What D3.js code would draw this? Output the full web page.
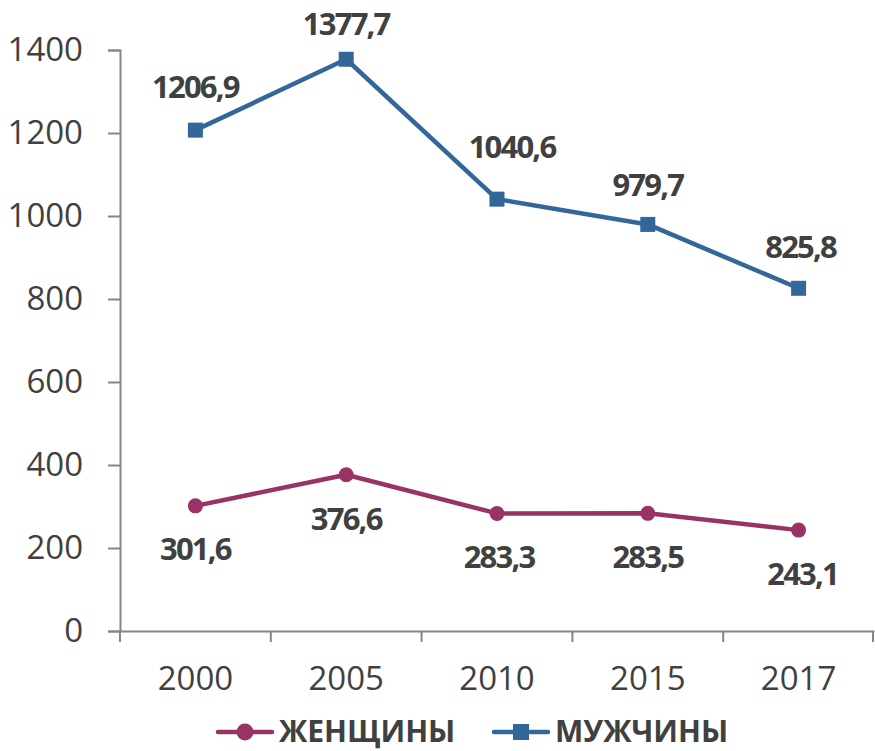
<!DOCTYPE html>
<html>
<head>
<meta charset="utf-8">
<script src="https://cdn.jsdelivr.net/npm/d3@7"></script>
<style>
  body { margin: 0; background: #fff; }
  svg text { font-family: "Open Sans", "Noto Sans", sans-serif; }
</style>
</head>
<body>
<div id="chart"></div>
<script>
// Data.
const years = ["2000", "2005", "2010", "2015", "2017"];
const women = [301.6, 376.6, 283.3, 283.5, 243.1];
const men = [1206.9, 1377.7, 1040.6, 979.7, 825.8];
const yTicks = [0, 200, 400, 600, 800, 1000, 1200, 1400];
const seriesNames = ["ЖЕНЩИНЫ", "МУЖЧИНЫ"];

// Small manual nudges for the value labels (dx, dy from the point).
const menLabelNudge = [[0, -32], [0, -24], [15, -41], [0, -28], [2, -30]];
const womenLabelNudge = [[0, 54], [0, 55], [2, 55], [0, 55], [4, 55]];

const width = 875;
const height = 751;
const margin = { top: 50, right: 1, bottom: 120, left: 120 };

const colorMen = "#336699";
const colorWomen = "#993366";
const textColor = "#404040";
const axisColor = "#868686";
const fontFamily = "'Open Sans', 'Noto Sans', sans-serif";

const svg = d3.select("#chart")
  .append("svg")
  .attr("width", width)
  .attr("height", height)
  .style("display", "block");

// Scales.
const x = d3.scaleBand()
  .domain(years)
  .range([margin.left, width - margin.right])
  .padding(0);

const y = d3.scaleLinear()
  .domain([0, 1400])
  .range([height - margin.bottom, margin.top]);

const cx = (d) => x(d) + x.bandwidth() / 2;

// Y axis.
const yAxis = svg.append("g")
  .attr("transform", `translate(${margin.left},0)`)
  .call(d3.axisLeft(y).tickValues(yTicks).tickSize(12).tickPadding(25).tickFormat(d3.format("d")))
  .attr("font-family", fontFamily)
  .attr("font-size", 33);
yAxis.select(".domain").attr("stroke", axisColor).attr("stroke-width", 2);
yAxis.selectAll(".tick line").attr("stroke", axisColor).attr("stroke-width", 2);
yAxis.selectAll(".tick text").attr("fill", textColor);

// X axis.
const xAxis = svg.append("g")
  .attr("transform", `translate(0,${y(0)})`)
  .call(d3.axisBottom(x).tickSize(0).tickPadding(36))
  .attr("font-family", fontFamily)
  .attr("font-size", 33);
xAxis.select(".domain").attr("stroke", axisColor).attr("stroke-width", 2);
xAxis.selectAll(".tick text").attr("fill", textColor);

// Category boundary ticks.
const bounds = years.map((d) => x(d)).concat([x.range()[1] - 1]);
xAxis.selectAll(".bound")
  .data(bounds)
  .enter()
  .append("line")
  .attr("class", "bound")
  .attr("x1", (d) => d)
  .attr("x2", (d) => d)
  .attr("y1", 0)
  .attr("y2", 11)
  .attr("stroke", axisColor)
  .attr("stroke-width", 2);

// Lines.
const line = d3.line()
  .x((d, i) => cx(years[i]))
  .y((d) => y(d));

svg.append("path")
  .datum(women)
  .attr("fill", "none")
  .attr("stroke", colorWomen)
  .attr("stroke-width", 4.5)
  .attr("stroke-linejoin", "round")
  .attr("d", line);

svg.append("path")
  .datum(men)
  .attr("fill", "none")
  .attr("stroke", colorMen)
  .attr("stroke-width", 4.5)
  .attr("stroke-linejoin", "round")
  .attr("d", line);

// Markers.
svg.selectAll(".dot")
  .data(women)
  .enter()
  .append("circle")
  .attr("class", "dot")
  .attr("cx", (d, i) => cx(years[i]))
  .attr("cy", (d) => y(d))
  .attr("r", 7.5)
  .attr("fill", colorWomen);

svg.selectAll(".sq")
  .data(men)
  .enter()
  .append("rect")
  .attr("class", "sq")
  .attr("x", (d, i) => cx(years[i]) - 7.5)
  .attr("y", (d) => y(d) - 7.5)
  .attr("width", 15)
  .attr("height", 15)
  .attr("fill", colorMen);

// Value labels.
const fmt = (v) => d3.format(".1f")(v).replace(".", ",");

function labels(data, nudge, cls) {
  svg.selectAll("." + cls)
    .data(data)
    .enter()
    .append("text")
    .attr("class", cls)
    .attr("x", (d, i) => cx(years[i]) + nudge[i][0])
    .attr("y", (d, i) => y(d) + nudge[i][1])
    .attr("text-anchor", "middle")
    .attr("fill", textColor)
    .style("font-size", "31px")
    .style("font-weight", "bold")
    .style("letter-spacing", "-1.8px")
    .text(fmt);
}
labels(men, menLabelNudge, "lm");
labels(women, womenLabelNudge, "lw");

// Legend.
const legendY = 732;
const legendItems = [
  { name: seriesNames[0], color: colorWomen, x0: 218, shape: "circle" },
  { name: seriesNames[1], color: colorMen, x0: 494, shape: "square" },
];

const legend = svg.selectAll(".legend")
  .data(legendItems)
  .enter()
  .append("g")
  .attr("class", "legend")
  .attr("transform", (d) => `translate(${d.x0},${legendY})`);

legend.append("line")
  .attr("x1", 0)
  .attr("x2", 54)
  .attr("stroke", (d) => d.color)
  .attr("stroke-width", 4.5)
  .attr("stroke-linecap", "round");

legend.filter((d) => d.shape === "circle")
  .append("circle")
  .attr("cx", 27)
  .attr("r", 8.5)
  .attr("fill", (d) => d.color);

legend.filter((d) => d.shape === "square")
  .append("rect")
  .attr("x", 19)
  .attr("y", -8)
  .attr("width", 16)
  .attr("height", 16)
  .attr("fill", (d) => d.color);

legend.append("text")
  .attr("x", 61)
  .attr("y", 10)
  .attr("fill", textColor)
  .style("font-size", "30px")
  .style("font-weight", "bold")
  .text((d) => d.name);
</script>
</body>
</html>
